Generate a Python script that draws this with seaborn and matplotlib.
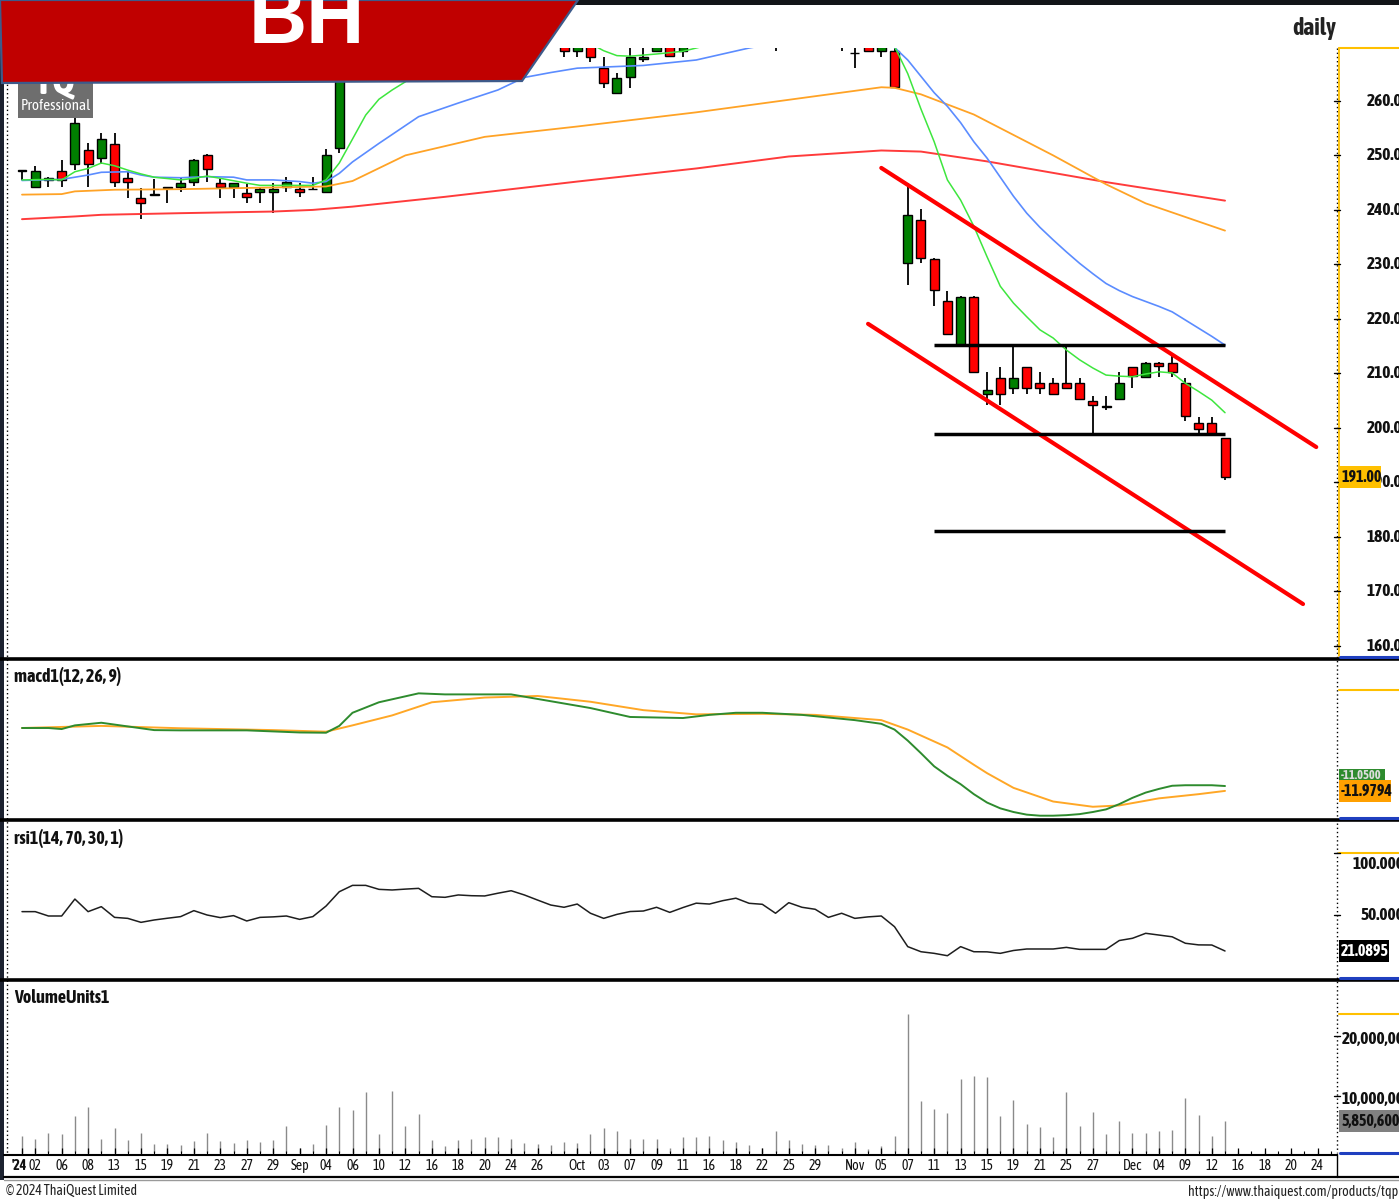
import numpy as np
import pandas as pd
import matplotlib
matplotlib.use("Agg")
import matplotlib.pyplot as plt
from matplotlib.patches import Polygon, Rectangle
import seaborn as sns

W, H = 1399, 1199

# ---------------- data ----------------
# daily candles, index 0 = 1 Aug 2024 ... 91 = 13 Dec 2024
opens = [247.2, 244.2, 245.5, 247.2, 248.4, 251.0, 249.5, 252.1, 245.9, 242.1,
         242.8, 244.0, 244.2, 245.2, 250.1, 244.9, 244.2, 243.1, 243.2, 243.2,
         244.2, 243.9, 243.8, 243.2, 251.3, 270.5, 275.0, 278.0, 276.0, 279.0,
         278.0, 281.0, 279.0, 279.5, 280.5, 279.0, 280.0, 281.5, 282.0, 280.0,
         277.0, 272.0, 269.2, 271.0, 266.0, 261.4, 264.3, 267.7, 269.2, 271.0,
         269.2, 271.0, 273.0, 274.0, 272.5, 273.5, 272.0, 271.5, 272.5, 273.5,
         272.5, 273.0, 271.5, 268.7, 270.5, 269.2, 269.2, 230.2, 238.2, 231.0,
         223.2, 215.2, 224.1, 206.2, 209.1, 207.3, 211.1, 208.2, 208.2, 208.2,
         208.2, 205.0, 203.8, 205.3, 211.1, 209.4, 212.0, 212.0, 208.2, 201.0,
         201.0, 198.1]
highs = [247.3, 248.1, 246.0, 249.2, 257.7, 252.2, 254.1, 254.1, 247.2, 244.0,
         245.7, 244.1, 246.0, 249.3, 250.2, 245.6, 245.0, 244.8, 244.0, 245.0,
         246.0, 245.0, 246.0, 251.1, 269.0, 276.0, 279.0, 280.0, 281.0, 280.0,
         282.0, 282.0, 280.0, 281.0, 281.0, 281.0, 282.0, 283.0, 282.5, 280.5,
         277.5, 274.0, 272.0, 272.0, 268.0, 265.1, 271.0, 271.0, 272.0, 272.0,
         272.0, 274.0, 275.0, 275.0, 274.0, 274.0, 273.0, 273.0, 274.0, 274.2,
         273.8, 273.5, 272.0, 271.0, 271.0, 271.0, 270.0, 244.9, 240.1, 231.1,
         225.2, 224.2, 224.2, 210.3, 211.1, 215.2, 211.2, 210.2, 209.1, 215.2,
         209.1, 205.9, 205.9, 210.2, 211.2, 212.1, 212.1, 213.2, 209.1, 202.1,
         202.1, 198.2]
lows = [245.5, 244.2, 244.2, 244.2, 247.3, 244.2, 248.4, 244.2, 242.1, 238.3,
        242.8, 241.2, 243.2, 244.3, 245.2, 242.1, 242.1, 241.2, 241.2, 239.4,
        243.2, 242.3, 243.7, 243.1, 250.4, 270.0, 274.0, 275.0, 275.5, 277.0,
        277.5, 278.0, 278.5, 279.0, 278.0, 278.5, 279.0, 281.0, 279.5, 276.0,
        272.5, 268.1, 268.1, 267.2, 262.3, 261.3, 262.3, 267.2, 269.1, 268.2,
        268.1, 270.5, 272.0, 272.0, 271.5, 271.5, 270.5, 269.2, 271.5, 271.8,
        272.0, 271.0, 269.2, 266.1, 269.2, 268.1, 262.3, 226.2, 230.2, 222.4,
        217.1, 215.1, 210.2, 204.2, 204.2, 206.2, 206.2, 206.2, 206.1, 207.2,
        205.2, 198.7, 203.3, 205.2, 207.3, 209.3, 209.4, 209.4, 201.3, 198.9,
        198.9, 190.5]
closes = [247.25, 247.2, 245.9, 245.5, 256.0, 248.4, 253.0, 245.2, 245.2, 241.3,
          243.0, 244.0, 245.0, 249.2, 247.5, 244.2, 244.9, 242.3, 243.9, 243.9,
          245.2, 243.2, 243.9, 250.1, 268.5, 275.0, 278.0, 276.0, 279.0, 278.0,
          281.0, 279.0, 279.5, 280.5, 279.0, 280.0, 281.5, 282.0, 280.0, 277.0,
          274.0, 269.2, 271.5, 268.1, 263.2, 264.2, 268.1, 268.1, 271.0, 268.3,
          271.0, 273.0, 274.0, 272.5, 273.5, 272.0, 271.5, 272.5, 273.5, 272.5,
          273.0, 271.5, 271.0, 268.8, 269.2, 270.5, 262.5, 239.1, 231.1, 225.3,
          217.2, 224.1, 210.3, 207.0, 206.2, 209.1, 207.3, 207.3, 206.2, 207.3,
          205.3, 204.2, 204.0, 208.2, 209.5, 212.0, 211.4, 210.3, 202.2, 199.9,
          198.9, 191.0]

# moving averages (sampled points)
ma_green_idx = [0, 2, 3, 4, 5, 6, 7, 8, 9, 10, 12, 13, 14, 15, 17, 18, 20, 22, 23, 24,
                25, 26, 27, 28, 29, 31, 34, 38, 42, 43, 44, 45, 46, 48, 50, 51, 54, 58,
                62, 65, 66, 67, 68, 69, 70, 71, 72, 73, 74, 75, 76, 77, 78, 79, 80, 81,
                82, 83, 84, 85, 86, 87, 88, 89, 90, 91]
ma_green_val = [245.5, 245.6, 245.5, 247.0, 247.6, 248.6, 248.1, 247.3, 246.6, 246.0,
                245.5, 245.8, 246.2, 245.8, 244.9, 244.5, 244.5, 244.5, 245.5, 248.6,
                253.0, 257.4, 260.3, 262.0, 263.5, 268.5, 273.0, 276.0, 272.0, 270.5,
                269.2, 268.3, 268.2, 268.6, 269.1, 269.7, 271.5, 273.0, 272.5, 271.5,
                270.0, 265.0, 258.5, 252.5, 245.5, 241.8, 237.0, 231.4, 226.0, 222.9,
                220.4, 218.0, 216.5, 214.3, 212.5, 211.0, 209.7, 209.5, 209.4, 209.9,
                210.3, 210.1, 208.2, 206.7, 205.1, 202.8]
ma_blue_idx = [0, 3, 4, 5, 6, 8, 9, 10, 12, 14, 16, 17, 19, 21, 22, 23, 24, 25, 27, 30,
               33, 36, 38, 40, 42, 47, 51, 55, 58, 62, 65, 66, 67, 68, 69, 70, 71, 72,
               73, 74, 75, 76, 77, 78, 79, 80, 81, 82, 83, 84, 85, 86, 87, 88, 89, 90, 91]
ma_blue_val = [245.4, 245.6, 246.0, 246.4, 246.9, 247.0, 246.4, 246.0, 245.9, 246.1,
               246.0, 245.5, 245.5, 245.2, 244.9, 245.2, 246.7, 248.8, 252.2, 257.1,
               259.6, 262.0, 264.3, 265.2, 266.0, 266.5, 267.5, 269.7, 271.0, 272.0,
               271.2, 269.8, 267.5, 264.5, 261.5, 259.0, 256.0, 252.5, 249.5, 246.0,
               242.5, 239.4, 236.8, 234.5, 232.3, 230.2, 228.3, 226.5, 225.2, 224.1,
               223.2, 222.3, 221.3, 219.8, 218.3, 216.8, 215.2]
ma_orange_idx = [0, 3, 4, 7, 12, 23, 25, 29, 35, 42, 51, 58, 65, 66, 68, 72, 78, 82, 85, 91]
ma_orange_val = [242.8, 242.9, 243.4, 243.7, 243.8, 244.3, 245.3, 250.0, 253.4, 255.3,
                 257.9, 260.2, 262.5, 262.4, 261.2, 257.5, 250.0, 244.7, 241.2, 236.2]
ma_red_idx = [0, 4, 6, 12, 19, 22, 25, 32, 42, 51, 58, 65, 68, 73, 82, 91]
ma_red_val = [238.3, 238.8, 239.1, 239.4, 239.7, 240.0, 240.6, 242.4, 245.2, 247.6,
              249.8, 250.9, 250.7, 248.9, 245.1, 241.7]

# drawn trend lines
chan_upper_x, chan_upper_y = [65.0, 97.9], [247.7, 196.5]
chan_lower_x, chan_lower_y = [64.0, 96.9], [219.1, 167.7]
level_prices = [215.2, 198.9, 181.1]
level_from, level_to = 69.0, 91.0

# MACD
macd_idx = [0, 2, 3, 4, 6, 8, 10, 12, 17, 21, 23, 24, 25, 27, 30, 32, 37, 40, 43, 46,
            50, 52, 54, 56, 59, 63, 65, 66, 67, 68, 69, 70, 71, 72, 73, 74, 75, 76,
            77, 78, 79, 80, 81, 82, 83, 84, 85, 86, 87, 88, 89, 90, 91]
macd_val = [0.0, 0.0, -0.2, 0.5, 1.0, 0.3, -0.4, -0.45, -0.45, -0.85, -0.9, 0.4, 2.9,
            4.9, 6.6, 6.4, 6.4, 5.1, 3.8, 2.1, 1.9, 2.5, 2.9, 2.9, 2.5, 1.5, 0.8, -0.3,
            -2.4, -4.8, -7.3, -9.1, -10.7, -12.6, -14.2, -15.3, -16.0, -16.5, -16.7,
            -16.7, -16.6, -16.4, -16.0, -15.5, -14.5, -13.3, -12.3, -11.6, -11.0,
            -10.9, -10.9, -10.9, -11.05]
signal_idx = [0, 6, 12, 19, 23, 25, 28, 31, 35, 39, 43, 47, 51, 56, 60, 65, 67, 70, 72,
              73, 75, 78, 81, 83, 86, 89, 91]
signal_val = [0.0, 0.4, -0.05, -0.4, -0.7, 0.5, 2.4, 4.9, 5.8, 6.1, 5.0, 3.4, 2.6, 2.7,
              2.5, 1.5, -0.3, -3.7, -7.0, -8.6, -11.4, -14.0, -15.0, -14.75, -13.4,
              -12.6, -11.9794]

# RSI(14)
rsi = [52.7, 52.7, 49.2, 49.2, 62.8, 52.7, 56.7, 48.1, 47.3, 44.1,
       46.0, 47.4, 48.7, 53.5, 50.0, 47.9, 49.5, 45.2, 48.1, 48.5,
       49.2, 46.5, 48.7, 57.2, 68.7, 73.8, 73.8, 70.6, 70.1, 70.8,
       71.4, 64.7, 64.2, 66.1, 65.5, 65.3, 67.5, 69.5, 66.1, 62.0,
       58.0, 56.2, 58.8, 51.4, 47.3, 50.5, 52.8, 53.2, 56.2, 52.1,
       56.0, 59.5, 58.8, 61.5, 63.5, 59.4, 58.6, 51.4, 59.9, 56.2,
       54.6, 48.1, 51.4, 47.3, 48.5, 49.2, 40.6, 24.6, 20.5, 19.2,
       17.3, 24.6, 20.5, 20.4, 19.2, 21.5, 22.7, 22.7, 22.7, 24.0,
       22.4, 22.4, 22.4, 29.5, 31.3, 35.3, 33.9, 32.5, 27.3, 26.0,
       25.9, 21.0895]

# volume, millions of shares
volume = [3.4, 2.9, 3.8, 3.6, 6.7, 8.2, 2.9, 4.7, 2.7, 3.8,
          2.0, 2.0, 1.8, 2.5, 3.8, 2.5, 2.1, 2.7, 2.3, 2.7,
          5.0, 1.3, 2.0, 5.2, 8.1, 7.7, 10.7, 3.7, 10.9, 5.0,
          7.0, 2.7, 1.7, 2.7, 2.9, 3.2, 3.2, 2.9, 2.2, 2.0,
          1.8, 2.3, 2.2, 3.7, 4.7, 4.1, 2.8, 2.8, 2.9, 1.4,
          3.2, 3.1, 3.4, 2.7, 2.3, 1.9, 1.4, 4.1, 2.7, 2.0,
          1.8, 1.8, 1.3, 2.3, 1.1, 1.7, 3.4, 23.7, 9.2, 7.8,
          7.2, 12.8, 13.3, 13.1, 6.6, 9.4, 5.4, 4.8, 3.2, 10.7,
          5.0, 7.4, 3.6, 5.8, 3.9, 3.9, 4.1, 4.3, 9.6, 6.9,
          3.4, 5.8506]

# x axis labels (trading-day index, text)
xtick_idx = [0, 1, 3, 5, 7, 9, 11, 13, 15, 17, 19, 21, 23, 25, 27, 29, 31, 33, 35, 37,
             39, 42, 44, 46, 48, 50, 52, 54, 56, 58, 60, 63, 65, 67, 69, 71, 73, 75,
             77, 79, 81, 84, 86, 88, 90, 92, 94, 96, 98]
xtick_lab = ["'24", "02", "06", "08", "13", "15", "19", "21", "23", "27", "29",
             "Sep", "04", "06", "10", "12", "16", "18", "20", "24", "26",
             "Oct", "03", "07", "09", "11", "16", "18", "22", "25", "29",
             "Nov", "05", "07", "11", "13", "15", "19", "21", "25", "27",
             "Dec", "04", "09", "12", "16", "18", "20", "24"]

price_ticks = [260, 250, 240, 230, 220, 210, 200, 190, 180, 170, 160]
rsi_ticks = [100, 50]
vol_ticks = [20, 10]

# ---------------- drawing ----------------
sns.set_style("white")
NARROW = ['Liberation Sans Narrow', 'Asap Condensed', 'DejaVu Sans']
plt.rcParams['font.family'] = NARROW

fig = plt.figure(figsize=(W / 100, H / 100), dpi=100)
fig.patch.set_facecolor('white')

XL, XR = 8, 1337
x0_px, step_px = 22, 13.22
xlim = ((XL - x0_px) / step_px, (XR - x0_px) / step_px)


def ax_px(x0, y0, x1, y1):
    a = fig.add_axes([x0 / W, 1 - y1 / H, (x1 - x0) / W, (y1 - y0) / H])
    a.set_facecolor('none')
    for s in a.spines.values():
        s.set_visible(False)
    a.set_xticks([])
    a.set_yticks([])
    a.set_xlim(*xlim)
    return a


days = np.arange(len(closes))
o, h, l, c = map(np.array, (opens, highs, lows, closes))

# price panel
ax_p = ax_px(XL, 48, XR, 658)
ax_p.set_ylim(157.8, 269.7)
up = c >= o
ax_p.vlines(days, l, h, color='black', lw=1.3, zorder=2)
ax_p.bar(days, np.maximum(np.abs(c - o), 0.12), bottom=np.minimum(o, c), width=0.68,
         color=np.where(up, '#008000', '#ff0000'), edgecolor='black', lw=1, zorder=3)
for xi, yi, col, lw in [(ma_red_idx, ma_red_val, '#ff3b3b', 1.4),
                        (ma_orange_idx, ma_orange_val, '#ffa326', 1.3),
                        (ma_blue_idx, ma_blue_val, '#5b8cff', 1.2),
                        (ma_green_idx, ma_green_val, '#3ee63e', 1.1)]:
    sns.lineplot(x=xi, y=yi, ax=ax_p, color=col, lw=lw, zorder=4)
ax_p.plot(chan_upper_x, chan_upper_y, color='#ff0000', lw=3, zorder=5)
ax_p.plot(chan_lower_x, chan_lower_y, color='#ff0000', lw=3, zorder=5)
ax_p.hlines(level_prices, level_from, level_to, color='black', lw=2.5, zorder=5)
ax_p.set_xlabel('')
ax_p.set_ylabel('')

# MACD panel
ax_m = ax_px(XL, 661, XR, 818)
ax_m.set_ylim(-17.14, 12.76)
sns.lineplot(x=signal_idx, y=signal_val, ax=ax_m, color='#ffa726', lw=1.4)
sns.lineplot(x=macd_idx, y=macd_val, ax=ax_m, color='#2e8b2e', lw=1.4)
ax_m.set_xlabel('')
ax_m.set_ylabel('')

# RSI panel
ax_r = ax_px(XL, 822, XR, 978)
ax_r.set_ylim(-0.6, 124.7)
sns.lineplot(x=days, y=rsi, ax=ax_r, color='#1e1e1e', lw=1.1)
ax_r.set_xlabel('')
ax_r.set_ylabel('')

# Volume panel
ax_v = ax_px(XL, 982, XR, 1153)
ax_v.set_ylim(0.5, 29.0)
ax_v.vlines(days, 0, volume, color='#8a8a8a', lw=1)

# x axis strip
ax_x = ax_px(XL, 1155, XR, 1177)
ax_x.set_ylim(0, 1)
ax_x.vlines(np.arange(0, 100), 1, 1.18, color='black', lw=0.8, clip_on=False)
ax_x.vlines(xtick_idx, 1, 1.3, color='black', lw=0.9, clip_on=False)
for xi, lab in zip(xtick_idx, xtick_lab):
    if lab == "'24":
        ax_x.text(xi - 0.2, 0.48, lab, ha='center', va='center', fontsize=10,
                  fontweight='bold', color='#111')
    else:
        ax_x.text(xi, 0.48, lab, ha='center', va='center', fontsize=10, color='#111')

# ---------------- overlay in pixel space ----------------
ax_o = fig.add_axes([0, 0, 1, 1])
ax_o.set_xlim(0, W)
ax_o.set_ylim(H, 0)
ax_o.axis('off')
ax_o.set_facecolor('none')


def y_of(ax, v):
    return H - ax.transData.transform((0, v))[1]


# frame lines
ax_o.add_patch(Rectangle((0, 0), W, 5, fc='#121418', ec='none'))
ax_o.add_patch(Rectangle((0, 0), 4, 1180, fc='#1c2230', ec='none'))
ax_o.plot([7, 7], [5, 1153], color='black', lw=1, ls=(0, (1, 2)))
ax_o.plot([1337, 1337], [48, 1153], color='black', lw=1, ls=(0, (1, 2)))
for yy in [659, 820, 980]:
    ax_o.plot([0, W], [yy, yy], color='black', lw=2.6)
ax_o.plot([4, 1337], [1154.5, 1154.5], color='black', lw=1.5)
ax_o.plot([4, W], [1177, 1177], color='black', lw=1.6)
ax_o.plot([4, W], [1179.5, 1179.5], color='#9a9a9a', lw=1)
ax_o.plot([1337, 1337], [1154, 1177], color='black', lw=1)

# right value-scale decorations
ax_o.plot([1339, W], [48, 48], color='#ffc000', lw=1.5)
ax_o.plot([1339, 1339], [48, 656], color='#ffc000', lw=1.3)
ax_o.plot([1339, W], [690, 690], color='#ffc000', lw=1.5)
ax_o.plot([1339, W], [853, 853], color='#ffc000', lw=1.5)
ax_o.plot([1339, W], [1014, 1014], color='#ffc000', lw=1.5)
for yy in [656.5, 818, 977.5, 1153]:
    ax_o.plot([1340, W], [yy, yy], color='#1f3fbf', lw=2.2)

for v in price_ticks:
    yv = y_of(ax_p, v)
    ax_o.plot([1334, 1340], [yv, yv], color='black', lw=1)
    ax_o.text(1367, yv, f"{v:.2f}", ha='left', va='center', fontsize=12.5,
              fontweight='bold', color='#111')
for v in rsi_ticks:
    yv = y_of(ax_r, v)
    ax_o.plot([1334, 1340], [yv, yv], color='black', lw=1)
    ax_o.text(1353 if v == 100 else 1361, yv + (11 if v == 100 else 0), f"{v:.3f}",
              ha='left', va='center', fontsize=12.5, fontweight='bold', color='#111')
for v in vol_ticks:
    yv = y_of(ax_v, v)
    ax_o.plot([1334, 1340], [yv, yv], color='black', lw=1)
    ax_o.text(1342, yv + 3, f"{v * 1000000:,}", ha='left', va='center', fontsize=12.5,
              fontweight='bold', color='#111')


def vbox(ax, v, txt, fc, tc, w, x0=1339, hgt=22, dy=0, fs=11.5):
    yc = y_of(ax, v) + dy
    ax_o.add_patch(Rectangle((x0, yc - hgt / 2), w, hgt, fc=fc, ec='none', zorder=5))
    ax_o.text(x0 + 2, yc, txt, color=tc, ha='left', va='center', fontsize=fs,
              fontweight='bold', zorder=6)


vbox(ax_p, closes[-1], f"{closes[-1]:.2f}", '#ffc000', '#111', 42)
vbox(ax_m, macd_val[-1], f"{macd_val[-1]:.4f}", '#2e8b2e', '#dddddd', 46, hgt=12, dy=-11, fs=9)
vbox(ax_m, signal_val[-1], f"{signal_val[-1]:.4f}", '#ffa000', '#111', 52)
vbox(ax_r, rsi[-1], f"{rsi[-1]:.4f}", '#000000', '#ffffff', 50)
vbox(ax_v, volume[-1], f"{volume[-1] * 1000000:,.0f}", '#808080', '#111', 60)

# titles
ax_o.text(1292, 29, "daily", fontsize=17, fontweight='bold', color='#222', va='center')
ax_o.text(14, 677, "macd1(12, 26, 9)", fontsize=13, fontweight='bold', color='#111', va='center')
ax_o.text(14, 838, "rsi1(14, 70, 30, 1)", fontsize=13, fontweight='bold', color='#111', va='center')
ax_o.text(14, 998, "VolumeUnits1", fontsize=13, fontweight='bold', color='#111', va='center')
ax_o.text(6, 1191, "\u00a9 2024 ThaiQuest Limited", fontsize=10, color='#222', va='center')
ax_o.text(1188, 1192, "https://www.thaiquest.com/products/tqprofessional", fontsize=10,
          color='#222', va='center')

# logo + banner
ax_o.add_patch(Rectangle((18, 62), 75, 56, fc='#6e6e6e', ec='none', zorder=7))
ax_o.text(56, 106, "Professional", color='white', fontsize=11, ha='center', va='center', zorder=8)
ax_o.text(55, 93, "TQ", color='white', fontsize=28, fontweight='bold', ha='center',
          va='baseline', zorder=8)
ax_o.add_patch(Polygon([(0, 0), (578, 0), (522, 81), (2, 83)], closed=True, fc='#c00000',
                       ec='#3d5a8a', lw=1.6, zorder=9))
ax_o.text(307, 43, "BH", color='white', fontsize=58, fontweight='bold', ha='center',
          va='baseline', zorder=10, family=['Liberation Sans', 'DejaVu Sans'])

fig.savefig("out.png", dpi=100)
